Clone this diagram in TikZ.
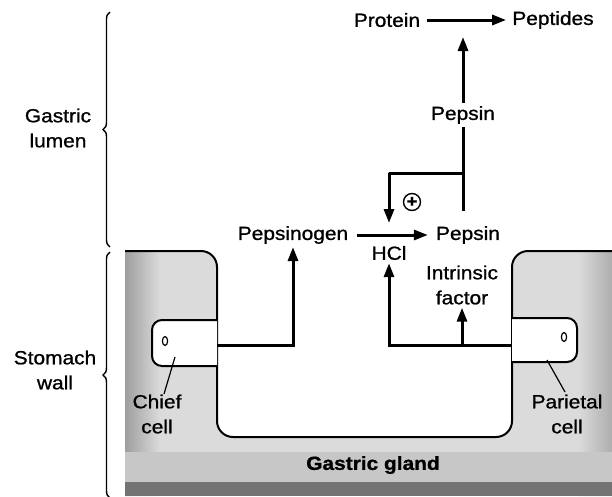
\documentclass[tikz,border=0pt]{standalone}
\usepackage{fontspec}
\setmainfont{Liberation Sans}[FakeStretch=1.1,FakeBold=1.0]
\usetikzlibrary{arrows.meta,decorations.pathreplacing}
\begin{document}
\begin{tikzpicture}[x=1pt,y=-1pt,
  lbl/.style={font=\fontsize{19}{25}\selectfont, inner sep=3pt, align=center},
  flow/.style={line width=3pt, -{Triangle[length=14pt,width=10pt]}},
  plainflow/.style={line width=3pt},
  outline/.style={line width=2pt, line join=round},
  thin/.style={line width=1.2pt},
  bracestyle/.style={line width=1.4pt, decorate, decoration={brace, amplitude=7pt}},
  wallfill/.style={fill=black!14}]
\useasboundingbox (0,0) rectangle (612,496);
\fill[white] (0,0) rectangle (612,496);

% stomach wall (stippled region)
\def\wallpath{(125,251) -- (201,251) arc[start angle=-90,end angle=0,radius=16] -- (217,421) arc[start angle=180,end angle=90,radius=16] -- (496,437) arc[start angle=90,end angle=0,radius=16] -- (512,267) arc[start angle=180,end angle=270,radius=16] -- (612,251) -- (612,496) -- (125,496) -- cycle}
\begin{scope}
  \path[clip] \wallpath;
  \fill[wallfill] (125,251) rectangle (612,496);
  \shade[left color=black!38, right color=black!14] (125,251) rectangle (160,496);
  \shade[left color=black!14, right color=black!32] (578,251) rectangle (612,496);
  \fill[black!22] (125,452) rectangle (612,482);
  \fill[black!55] (125,482) rectangle (612,496);
\end{scope}
\draw[outline] (125,251) -- (201,251) arc[start angle=-90,end angle=0,radius=16] -- (217,421) arc[start angle=180,end angle=90,radius=16] -- (496,437) arc[start angle=90,end angle=0,radius=16] -- (512,267) arc[start angle=180,end angle=270,radius=16] -- (612,251);

% chief cell
\draw[outline, fill=white, rounded corners=10] (217,320) -- (152,320) -- (152,366) -- (217,366);
\draw[thin] (165,341) ellipse[x radius=2.6, y radius=4.5];
\draw[thin] (175,357) -- (164,394);
% parietal cell
\draw[outline, fill=white, rounded corners=10] (512,318) -- (577,318) -- (577,362) -- (512,362);
\draw[thin] (564,337) ellipse[x radius=2.6, y radius=4.5];
\draw[thin] (547,360) -- (565,392);

% braces
\draw[bracestyle] (110,247) -- (110,12);
\draw[bracestyle] (110,498) -- (110,252);
\node[lbl] (lumen) at (58,128) {Gastric\\lumen};
\node[lbl] (wall) at (55,370) {Stomach\\wall};

% labels
\node[lbl] (protein) at (387,20) {Protein};
\node[lbl] (peptides) at (553,20) {Peptides};
\node[lbl] (pepsinB) at (463,115) {Pepsin};
\node[lbl] (pepsinogen) at (293,235) {Pepsinogen};
\node[lbl] (pepsinA) at (468,235) {Pepsin};
\node[lbl] (hcl) at (389,253) {HCl};
\node[lbl] (intrinsic) at (462,285) {Intrinsic\\factor};
\node[lbl] (chief) at (157,414) {Chief\\cell};
\node[lbl] (parietal) at (567,414) {Parietal\\cell};
\node[lbl, font=\fontsize{19}{25}\selectfont\bfseries] (gland) at (373,465) {Gastric gland};
\node[draw, circle, line width=1.4pt, minimum size=17pt, inner sep=0pt, font=\fontsize{17}{17}\selectfont\bfseries] (plus) at (412,202) {+};

% connectors
\coordinate (chiefout) at (217,345);
\coordinate (parout) at (512,345);
\coordinate (ifbranch) at (462,345);
\coordinate (pepjoin) at (463,211);
\coordinate (fbjoin) at (463,173);
\coordinate (fbend) at (389,223);
\coordinate (prottarget) at (463,37);

\draw[flow, shorten <=4pt, shorten >=3pt] (protein.east) -- (peptides.west);
\draw[flow] (chiefout) -| (pepsinogen.south);
\draw[flow] (parout) -| (hcl.south);
\draw[flow] (ifbranch) -- (intrinsic.south);
\draw[flow, shorten <=6pt, shorten >=5pt] (pepsinogen.east) -- (pepsinA.west);
\draw[plainflow] (pepjoin) -- (pepsinB.south);
\draw[flow] (pepsinB.north) -- (prottarget);
\draw[flow, line join=round] (fbjoin) -| (fbend);
\end{tikzpicture}
\end{document}
